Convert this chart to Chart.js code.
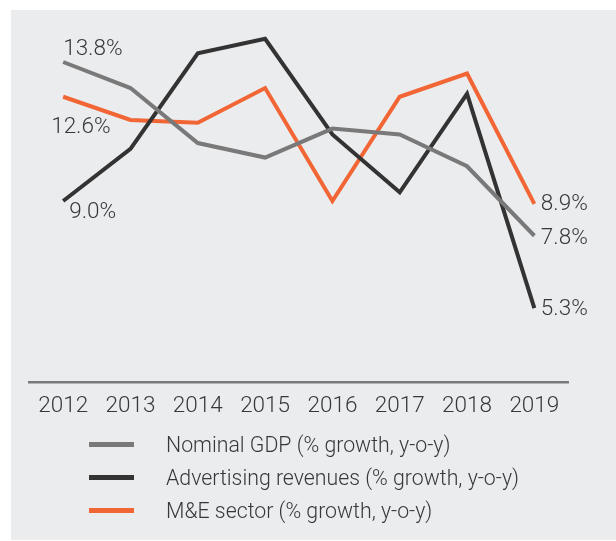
<!DOCTYPE html>
<html>
<head>
<meta charset="utf-8">
<script src="https://cdn.jsdelivr.net/npm/chart.js@4.4.1/dist/chart.umd.min.js"></script>
<style>
  body { margin: 0; background: #fff; width: 616px; height: 541px; overflow: hidden; }
  #panel { position: absolute; left: 11px; top: 10px; width: 605px; height: 530px; background: #ebecee; }
  #wrap { position: absolute; left: 0; top: 0; width: 605px; height: 420px; }
  #legend { position: absolute; left: 78px; top: 418px; font-family: Roboto, "Liberation Sans", sans-serif; font-weight: 300; font-size: 21.3px; color: #383838; }
  .item { height: 33px; display: flex; align-items: center; }
  .sw { width: 45px; height: 5px; margin-right: 32px; }
</style>
</head>
<body>
<div id="panel">
  <div id="wrap"><canvas id="growth"></canvas></div>
  <div id="legend"></div>
</div>
<script>
var years = ["2012", "2013", "2014", "2015", "2016", "2017", "2018", "2019"];
var gdp = [13.8, 12.9, 11.0, 10.5, 11.5, 11.3, 10.2, 7.8];
var adRevenue = [9.0, 10.8, 14.1, 14.6, 11.3, 9.3, 12.7, 5.3];
var meSector = [12.6, 11.8, 11.7, 12.9, 9.0, 12.6, 13.4, 8.9];
var seriesNames = ["Nominal GDP (% growth, y-o-y)", "Advertising revenues (% growth, y-o-y)", "M&E sector (% growth, y-o-y)"];
var seriesColors = ["#797979", "#333333", "#f26535"];

var fontName = 'Roboto, "Liberation Sans", sans-serif';

// which points get a value label, and where it sits relative to the point
var callouts = [
    {ds: 0, i: 0, dx: 0, dy: -13},
    {ds: 2, i: 0, dx: -12, dy: 31},
    {ds: 1, i: 0, dx: 6, dy: 11},
    {ds: 2, i: 7, dx: 6.5, dy: 0},
    {ds: 0, i: 7, dx: 6.5, dy: 3},
    {ds: 1, i: 7, dx: 6.5, dy: 1}
];

var valueLabels = {
    id: 'valueLabels',
    afterDatasetsDraw: function(chart) {
        var ctx = chart.ctx;
        ctx.save();
        ctx.font = '300 22.5px ' + fontName;
        ctx.fillStyle = '#383838';
        ctx.textAlign = 'left';
        ctx.textBaseline = 'middle';
        callouts.forEach(function(c) {
            var pt = chart.getDatasetMeta(c.ds).data[c.i];
            var v = chart.data.datasets[c.ds].data[c.i];
            ctx.fillText(v.toFixed(1) + '%', pt.x + c.dx, pt.y + c.dy);
        });
        ctx.restore();
    }
};

var allSeries = [gdp, adRevenue, meSector];
var ctx = document.getElementById("growth");
var myChart = new Chart(ctx, {
    type: 'line',
    data: {
        labels: years,
        datasets: allSeries.map(function(d, k) {
            return {
                label: seriesNames[k],
                data: d,
                borderColor: seriesColors[k],
                backgroundColor: seriesColors[k],
                borderWidth: 4,
                borderJoinStyle: 'miter',
                pointRadius: 0,
                tension: 0,
                fill: false
            };
        })
    },
    options: {
        responsive: true,
        maintainAspectRatio: false,
        animation: false,
        layout: { padding: { left: 18.5, right: 48, top: 10, bottom: 0 } },
        plugins: {
            legend: { display: false },
            tooltip: { enabled: false }
        },
        scales: {
            x: {
                offset: true,
                grid: { display: false, drawTicks: false },
                border: { display: true, color: '#7a7a7a', width: 2.5 },
                ticks: { color: '#383838', font: { family: fontName, size: 22.5, weight: 300 }, padding: 11, maxRotation: 0 },
                afterFit: function(s) { s.height = 48; }
            },
            y: {
                display: false,
                min: 2.75,
                max: 15.25
            }
        }
    },
    plugins: [valueLabels]
});

// legend
var lg = document.getElementById("legend");
seriesNames.forEach(function(name, k) {
    var row = document.createElement("div");
    row.className = "item";
    row.innerHTML = "<div class='sw' style='background:" + seriesColors[k] + "'></div><span>" + name + "</span>";
    lg.appendChild(row);
});
</script>
</body>
</html>
